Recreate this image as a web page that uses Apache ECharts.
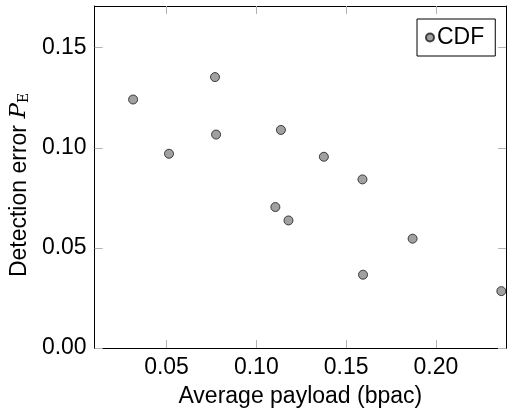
<!DOCTYPE html>
<html>
<head>
<meta charset="utf-8">
<script src="https://cdn.jsdelivr.net/npm/echarts@6/dist/echarts.min.js"></script>
<style>
html,body{margin:0;padding:0;background:#fff;}
#chart{width:508px;height:413px;}
</style>
</head>
<body>
<div id="chart"></div>
<script>
const seriesName = 'CDF';
const payload = [0.0314, 0.0770, 0.0514, 0.0776, 0.1137, 0.1376, 0.1591, 0.1106, 0.1179, 0.1870, 0.1594, 0.2364];
const detectionError = [0.1241, 0.1353, 0.0970, 0.1066, 0.1089, 0.0955, 0.0842, 0.0704, 0.0637, 0.0546, 0.0366, 0.0284];
const xTicks = [0.05, 0.10, 0.15, 0.20];
const yTicks = [0.00, 0.05, 0.10, 0.15];
const xRange = [0.01, 0.239];
const yRange = [0, 0.1708];

const FONT = '"Liberation Sans", Arial, Helvetica, sans-serif';
const SERIF = '"DejaVu Serif", "Liberation Serif", serif';
const FS = 23;
const TICK = '#b3b3b3';

const data = payload.map((x, i) => [x, detectionError[i]]);

function axisBase(extra) {
  return Object.assign({
    type: 'value',
    axisLine: {show: true, onZero: false, lineStyle: {color: '#000', width: 1}},
    splitLine: {show: false},
  }, extra);
}

const chart = echarts.init(document.getElementById('chart'), null, {renderer: 'canvas'});
chart.setOption({
  animation: false,
  backgroundColor: '#fff',
  grid: {left: 94, right: 2, top: 6, bottom: 62, containLabel: false},
  legend: {
    show: true,
    data: [seriesName],
    left: 417, top: 19,
    orient: 'horizontal',
    padding: [7, 11, 7, 8],
    itemWidth: 8, itemHeight: 8, itemGap: 4,
    icon: 'circle',
    borderColor: '#000', borderWidth: 1, borderRadius: 0,
    backgroundColor: '#fff',
    textStyle: {fontFamily: FONT, fontSize: FS, color: '#000', padding: [0, 0, 0, -2]}
  },
  xAxis: [
    axisBase({
      position: 'bottom',
      min: xRange[0], max: xRange[1],
      axisTick: {show: true, inside: true, length: 8, lineStyle: {color: TICK, width: 1}, customValues: xTicks},
      axisLabel: {customValues: xTicks, fontFamily: FONT, fontSize: FS, color: '#000', margin: 8,
        formatter: v => v.toFixed(2)},
      name: 'Average payload (bpac)',
      nameLocation: 'middle', nameGap: 37,
      nameTextStyle: {fontFamily: FONT, fontSize: FS, color: '#000'}
    }),
    axisBase({
      position: 'top',
      min: xRange[0], max: xRange[1],
      axisTick: {show: true, inside: true, length: 8, lineStyle: {color: TICK, width: 1}, customValues: xTicks},
      axisLabel: {show: false}
    })
  ],
  yAxis: [
    axisBase({
      position: 'left',
      min: yRange[0], max: yRange[1],
      axisTick: {show: true, inside: true, length: 8, lineStyle: {color: TICK, width: 1}, customValues: yTicks},
      axisLabel: {customValues: yTicks, fontFamily: FONT, fontSize: FS, color: '#000', margin: 8,
        formatter: v => v.toFixed(2)},
      name: '{t|Detection error }{p|P}{s|E}',
      nameLocation: 'middle', nameGap: 62, nameRotate: 90,
      nameTextStyle: {
        fontFamily: FONT, fontSize: FS, color: '#000',
        padding: [0, 16, 0, 0],
        rich: {
          t: {fontFamily: FONT, fontSize: FS, color: '#000', verticalAlign: 'bottom', lineHeight: 27},
          p: {fontFamily: SERIF, fontStyle: 'italic', fontSize: FS, color: '#000', verticalAlign: 'bottom', lineHeight: 27},
          s: {fontFamily: SERIF, fontSize: 14, color: '#000', verticalAlign: 'bottom', lineHeight: 20}
        }
      }
    }),
    axisBase({
      position: 'right',
      min: yRange[0], max: yRange[1],
      axisTick: {show: true, inside: true, length: 8, lineStyle: {color: TICK, width: 1}, customValues: yTicks},
      axisLabel: {show: false}
    })
  ],
  series: [{
    name: seriesName,
    type: 'scatter',
    xAxisIndex: 0, yAxisIndex: 0,
    data: data,
    symbol: 'circle',
    symbolSize: 9,
    itemStyle: {color: '#8a8a8a', borderColor: '#1a1a1a', borderWidth: 1},
    emphasis: {disabled: true},
    clip: false
  }]
});
</script>
</body>
</html>
